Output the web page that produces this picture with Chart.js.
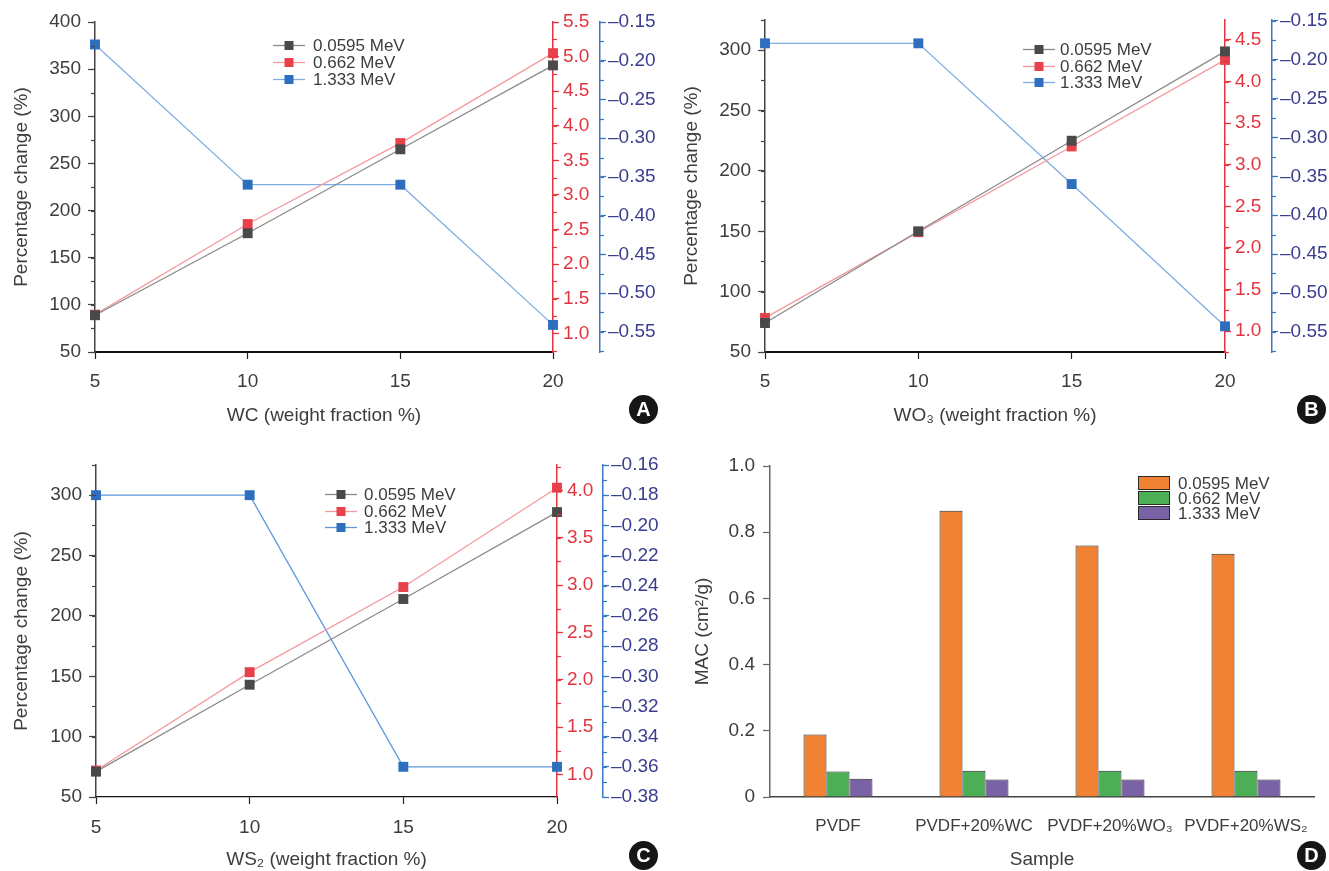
<!DOCTYPE html>
<html>
<head>
<meta charset="utf-8">
<script src="https://cdn.jsdelivr.net/npm/chart.js@4"></script>
<style>
  body { margin: 0; background: #fff; }
  #page { position: relative; width: 1329px; height: 871px; overflow: hidden; background: #fff; }
  .panel { position: absolute; }
  .tag { position: absolute; width: 29px; height: 29px; border-radius: 50%; background: #161616; color: #fff;
         font: bold 20px "Liberation Sans", Arial, sans-serif; text-align: center; line-height: 29px; }
</style>
</head>
<body>
<div id="page">
  <div class="panel" style="left:0;top:0"><canvas id="chartA" width="660" height="440"></canvas></div>
  <div class="panel" style="left:660px;top:0"><canvas id="chartB" width="669" height="440"></canvas></div>
  <div class="panel" style="left:0;top:440px"><canvas id="chartC" width="660" height="431"></canvas></div>
  <div class="panel" style="left:660px;top:440px"><canvas id="chartD" width="669" height="431"></canvas></div>
  <div class="tag" style="left:629px;top:395px">A</div>
  <div class="tag" style="left:1297px;top:395px">B</div>
  <div class="tag" style="left:629px;top:841px">C</div>
  <div class="tag" style="left:1297px;top:841px">D</div>
</div>
<script>
// ---- data ----
const fractions = [5, 10, 15, 20];
const energies = ["0.0595 MeV", "0.662 MeV", "1.333 MeV"];

// A: WC
const wcLow = [89, 176, 265, 354];
const wcMid = [1.27, 2.58, 3.75, 5.05];
const wcHigh = [-0.179, -0.36, -0.36, -0.541];
// B: WO3
const wo3Low = [74, 150, 225, 299];
const wo3Mid = [1.16, 2.19, 3.22, 4.26];
const wo3High = [-0.179, -0.179, -0.36, -0.543];
// C: WS2
const ws2Low = [71, 143, 214, 286];
const ws2Mid = [1.04, 2.08, 2.98, 4.03];
const ws2High = [-0.18, -0.18, -0.36, -0.36];
// D: mass attenuation
const samples = ["PVDF", "PVDF+20%WC", "PVDF+20%WO\u2083", "PVDF+20%WS\u2082"];
const macLow = [0.189, 0.865, 0.76, 0.735];
const macMid = [0.077, 0.079, 0.079, 0.079];
const macHigh = [0.055, 0.053, 0.053, 0.053];

// tick lists
const pctTicksA = [50, 100, 150, 200, 250, 300, 350, 400];
const pctTicksBC = [50, 100, 150, 200, 250, 300];
const redTicksA = [1.0, 1.5, 2.0, 2.5, 3.0, 3.5, 4.0, 4.5, 5.0, 5.5];
const redTicksB = [1.0, 1.5, 2.0, 2.5, 3.0, 3.5, 4.0, 4.5];
const redTicksC = [1.0, 1.5, 2.0, 2.5, 3.0, 3.5, 4.0];
const blueTicksAB = [-0.55, -0.5, -0.45, -0.4, -0.35, -0.3, -0.25, -0.2, -0.15];
const blueTicksC = [-0.38, -0.36, -0.34, -0.32, -0.3, -0.28, -0.26, -0.24, -0.22, -0.2, -0.18, -0.16];
const macTicks = [0, 0.2, 0.4, 0.6, 0.8, 1.0];

const FONT = '"Liberation Sans", Arial, sans-serif';
const TXT = '#3d3d3d';
const RED = '#e2353f';
const BLUE = '#3a78c4';
const NAVY = '#3b3d8f';

Chart.defaults.font.family = FONT;
Chart.defaults.font.size = 19;
Chart.defaults.color = TXT;

// small unlabeled ticks between the labeled ones
const minorTicks = {
  id: 'minorTicks',
  afterDraw(chart, args, opts) {
    const ctx = chart.ctx;
    (opts.axes || []).forEach(a => {
      const s = chart.scales[a.id];
      const left = s.position === 'left';
      const x0 = left ? s.right : s.left;
      ctx.save();
      ctx.strokeStyle = a.color;
      ctx.lineWidth = 1.2;
      for (let n = Math.ceil(s.min / a.step - 1e-6); n * a.step <= s.max + 1e-9; n++) {
        const y = Math.round(s.getPixelForValue(n * a.step)) + 0.5;
        ctx.beginPath();
        ctx.moveTo(x0, y);
        ctx.lineTo(x0 + (left ? -4 : 4), y);
        ctx.stroke();
      }
      ctx.restore();
    });
  }
};

// legend drawn at a fixed spot inside the plot
const floatLegend = {
  id: 'floatLegend',
  afterDatasetsDraw(chart, args, o) {
    if (o.x === undefined) return;
    const ctx = chart.ctx;
    ctx.save();
    ctx.font = '17px ' + FONT;
    ctx.textBaseline = 'middle';
    chart.data.datasets.forEach((ds, i) => {
      const y = Math.round(o.y + i * o.row);
      if (o.box) {
        ctx.fillStyle = ds.backgroundColor;
        ctx.fillRect(o.x, y - o.boxH / 2, o.boxW, o.boxH);
        ctx.strokeStyle = '#2a2a2a';
        ctx.lineWidth = 1;
        ctx.strokeRect(o.x + 0.5, y - o.boxH / 2 + 0.5, o.boxW - 1, o.boxH - 1);
      } else {
        ctx.strokeStyle = ds.borderColor;
        ctx.lineWidth = 1.3;
        ctx.beginPath();
        ctx.moveTo(o.x, y + 0.5);
        ctx.lineTo(o.x + o.lineW, y + 0.5);
        ctx.stroke();
        ctx.fillStyle = ds.pointBackgroundColor;
        ctx.fillRect(o.x + o.lineW / 2 - 4.5, y - 4, 9, 9);
      }
      ctx.fillStyle = TXT;
      ctx.fillText(ds.label, o.textX, y + 1);
    });
    ctx.restore();
  }
};

const setTicks = list => s => { s.ticks = list.map(v => ({ value: v })); };

function series(label, values, axis, line, mark) {
  return {
    label: label,
    data: fractions.map((f, i) => ({ x: f, y: values[i] })),
    yAxisID: axis,
    borderColor: line,
    borderWidth: 1.3,
    pointStyle: 'rect',
    pointRadius: 7,
    pointBorderWidth: 0,
    pointBackgroundColor: mark,
    tension: 0,
    clip: false
  };
}

function lineChart(id, p) {
  return new Chart(document.getElementById(id), {
    type: 'line',
    data: {
      datasets: [
        series(energies[0], p.low, 'y', '#8a8a8a', '#4a4a4a'),
        series(energies[1], p.mid, 'yRed', '#f49a9d', '#e8414b'),
        series(energies[2], p.high, 'yBlue', p.blueLine, '#2d6ebe')
      ]
    },
    options: {
      responsive: false,
      animation: false,
      layout: { padding: { top: p.top, left: 0, right: 0, bottom: 0 } },
      plugins: {
        legend: { display: false },
        tooltip: { enabled: false },
        floatLegend: p.legend,
        minorTicks: { axes: [
          { id: 'y', step: 25, color: '#444' },
          { id: 'yRed', step: 0.25, color: RED },
          { id: 'yBlue', step: p.blueMinor, color: BLUE }
        ] }
      },
      scales: {
        x: {
          type: 'linear', min: 5, max: 20,
          afterBuildTicks: setTicks(fractions),
          ticks: { padding: p.xTickPad, color: TXT },
          grid: { drawOnChartArea: false, tickLength: 7, color: '#222', tickWidth: 1.2 },
          border: { color: '#111', width: p.xBorder },
          title: { display: true, text: p.xTitle, color: TXT, padding: { top: 0, bottom: p.xTitlePad },
                   font: { size: 19, lineHeight: 1.2 } },
          afterFit: s => { s.height = p.xHeight; }
        },
        y: {
          type: 'linear', position: 'left', min: p.leftRange[0], max: p.leftRange[1],
          afterBuildTicks: setTicks(p.leftTicks),
          ticks: { padding: 7, color: TXT },
          grid: { drawOnChartArea: false, tickLength: 7, color: '#444', tickWidth: 1.2 },
          border: { color: '#444', width: 1.5 },
          title: { display: true, text: 'Percentage change (%)', color: TXT, padding: { top: p.yTitlePad, bottom: 0 },
                   font: { size: 19, lineHeight: 1.2 } },
          afterFit: s => { s.width = p.leftW; }
        },
        yRed: {
          type: 'linear', position: 'right', weight: 0, min: p.redRange[0], max: p.redRange[1],
          afterBuildTicks: setTicks(p.redTicks),
          ticks: { padding: 4, color: RED, callback: v => v.toFixed(1) },
          grid: { drawOnChartArea: false, tickLength: 6, color: RED, tickWidth: 1.2 },
          border: { color: RED, width: 1.5 },
          afterFit: s => { s.width = p.redW; }
        },
        yBlue: {
          type: 'linear', position: 'right', weight: 1, min: p.blueRange[0], max: p.blueRange[1],
          afterBuildTicks: setTicks(p.blueTicks),
          ticks: { padding: 2, color: NAVY, callback: v => '\u2013' + Math.abs(v).toFixed(2) },
          grid: { drawOnChartArea: false, tickLength: 6, color: BLUE, tickWidth: 1.2 },
          border: { color: BLUE, width: 1.5 },
          afterFit: s => { s.width = p.blueW; }
        }
      }
    },
    plugins: [minorTicks, floatLegend]
  });
}

lineChart('chartA', {
  low: wcLow, mid: wcMid, high: wcHigh, blueLine: '#7eaee2',
  top: 22, leftW: 95, redW: 47, blueW: 60, xHeight: 88, xBorder: 2,
  xTickPad: 11, xTitlePad: 12.6, yTitlePad: 10.6,
  xTitle: 'WC (weight fraction %)',
  leftRange: [50, 400], leftTicks: pctTicksA,
  redRange: [0.73, 5.5], redTicks: redTicksA,
  blueRange: [-0.576, -0.15], blueTicks: blueTicksAB, blueMinor: 0.025,
  legend: { x: 273, lineW: 32, textX: 313, y: 45, row: 17 }
});

lineChart('chartB', {
  low: wo3Low, mid: wo3Mid, high: wo3High, blueLine: '#7eaee2',
  top: 20, leftW: 105, redW: 47, blueW: 57, xHeight: 88, xBorder: 2,
  xTickPad: 11, xTitlePad: 12.6, yTitlePad: 20.6,
  xTitle: 'WO\u2083 (weight fraction %)',
  leftRange: [50, 325], leftTicks: pctTicksBC,
  redRange: [0.75, 4.74], redTicks: redTicksB,
  blueRange: [-0.576, -0.149], blueTicks: blueTicksAB, blueMinor: 0.025,
  legend: { x: 363, lineW: 32, textX: 400, y: 49, row: 16.5 }
});

lineChart('chartC', {
  low: ws2Low, mid: ws2Mid, high: ws2High, blueLine: '#5f97dc',
  top: 25, leftW: 96, redW: 46, blueW: 57, xHeight: 74, xBorder: 1.3,
  xTickPad: 12, xTitlePad: 0, yTitlePad: 10.6,
  xTitle: 'WS\u2082 (weight fraction %)',
  leftRange: [50, 325], leftTicks: pctTicksBC,
  redRange: [0.76, 4.27], redTicks: redTicksC,
  blueRange: [-0.38, -0.16], blueTicks: blueTicksC, blueMinor: 0.01,
  legend: { x: 325, lineW: 32, textX: 364, y: 54, row: 16.5 }
});

new Chart(document.getElementById('chartD'), {
  type: 'bar',
  data: {
    labels: samples,
    datasets: [
      { label: energies[0], data: macLow, backgroundColor: '#f28233', borderColor: '#2a2a2a', borderWidth: 1 },
      { label: energies[1], data: macMid, backgroundColor: '#4caf55', borderColor: '#2a2a2a', borderWidth: 1 },
      { label: energies[2], data: macHigh, backgroundColor: '#7a62a7', borderColor: '#2a2a2a', borderWidth: 1 }
    ]
  },
  options: {
    responsive: false,
    animation: false,
    layout: { padding: { top: 26, right: 15, left: 0, bottom: 0 } },
    datasets: { bar: { barPercentage: 1, categoryPercentage: 0.507 } },
    plugins: {
      legend: { display: false },
      tooltip: { enabled: false },
      floatLegend: { box: true, x: 478, boxW: 32, boxH: 14, textX: 518, y: 43, row: 15 }
    },
    scales: {
      x: {
        grid: { display: false, drawTicks: false },
        border: { color: '#444', width: 1.5 },
        ticks: { padding: 19, color: TXT, autoSkip: false, maxRotation: 0, minRotation: 0, font: { size: 17 } },
        title: { display: true, text: 'Sample', color: TXT, padding: { top: 0, bottom: 0 }, font: { size: 19, lineHeight: 1.2 } },
        afterFit: s => { s.height = 74; }
      },
      y: {
        min: 0, max: 1.0,
        afterBuildTicks: setTicks(macTicks),
        ticks: { padding: 8, color: TXT, callback: v => (v === 0 ? '0' : v.toFixed(1)) },
        grid: { drawOnChartArea: false, tickLength: 7, color: '#666', tickWidth: 1.2 },
        border: { color: '#666', width: 1.5 },
        title: { display: true, text: 'MAC (cm\u00b2/g)', color: TXT, padding: { top: 31.6, bottom: 0 }, font: { size: 19, lineHeight: 1.2 } },
        afterFit: s => { s.width = 110; }
      }
    }
  },
  plugins: [floatLegend]
});
</script>
</body>
</html>
